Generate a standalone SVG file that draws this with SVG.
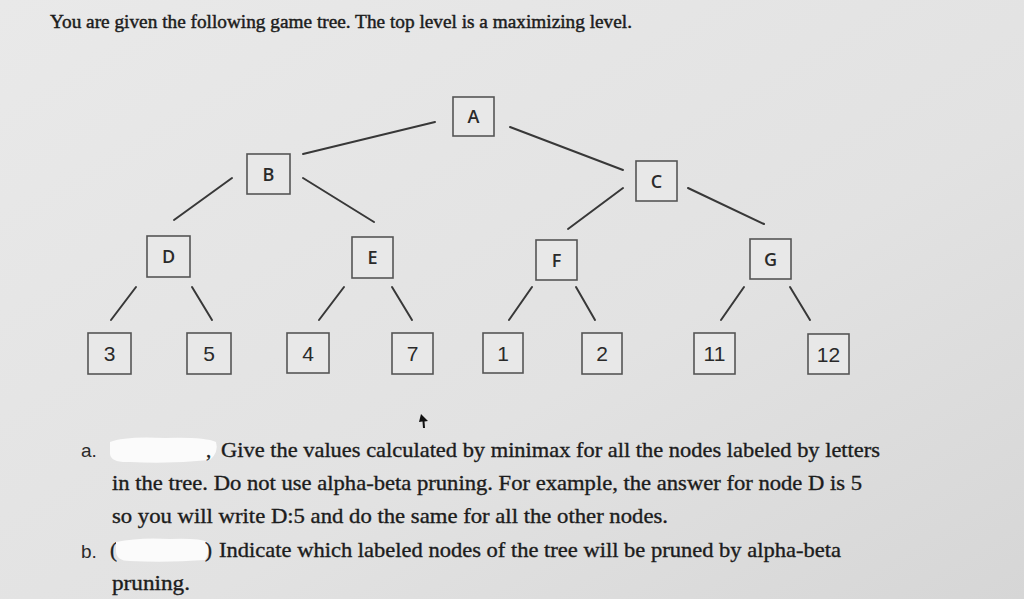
<svg xmlns="http://www.w3.org/2000/svg" width="1024" height="599" viewBox="0 0 1024 599">
<defs>
<linearGradient id="bg" x1="0" y1="0" x2="1" y2="1">
<stop offset="0" stop-color="#e9e9e9"/>
<stop offset="0.6" stop-color="#e2e2e2"/>
<stop offset="1" stop-color="#d6d6d6"/>
</linearGradient>
<style>
.box{fill:#e8e8e8;stroke:#555;stroke-width:1.6}
.lbl{font-family:"Open Sans","Liberation Sans",sans-serif;font-size:18px;font-weight:600;fill:#2a2a2a;text-anchor:middle}
.num{font-family:"Liberation Sans Narrow","Liberation Sans",sans-serif;font-size:21px;fill:#2a2a2a;text-anchor:middle}
.edge{stroke:#383838;stroke-width:2;stroke-linecap:round;fill:none}
.txt{font-family:"Liberation Serif","Times New Roman",serif;font-size:21px;fill:#1c1c1c;stroke:#1c1c1c;stroke-width:0.35}
.sans{font-family:"Liberation Sans",Arial,sans-serif;font-size:19px;fill:#2a2a2a}
.hd{font-family:"Liberation Serif","Times New Roman",serif;font-size:19px;fill:#1c1c1c;stroke:#1c1c1c;stroke-width:0.45}
.blob{fill:#fbfbfb}
</style>
</defs>
<rect width="1024" height="599" fill="url(#bg)"/>
<text class="hd" x="50" y="28" textLength="582" lengthAdjust="spacingAndGlyphs">You are given the following game tree. The top level is a maximizing level.</text>

<g id="connectors">
<line class="edge" x1="435" y1="122" x2="303" y2="154"/>
<line class="edge" x1="510" y1="127" x2="623" y2="170"/>
<line class="edge" x1="232" y1="178" x2="174" y2="220"/>
<line class="edge" x1="303" y1="178" x2="374" y2="222"/>
<line class="edge" x1="623" y1="188" x2="568" y2="229"/>
<line class="edge" x1="688" y1="188" x2="764" y2="224"/>
<line class="edge" x1="136" y1="287" x2="111" y2="320"/>
<line class="edge" x1="192" y1="287" x2="212" y2="320"/>
<line class="edge" x1="344" y1="287" x2="319" y2="320"/>
<line class="edge" x1="392" y1="287" x2="412" y2="320"/>
<line class="edge" x1="532" y1="287" x2="509" y2="320"/>
<line class="edge" x1="576" y1="287" x2="595" y2="320"/>
<line class="edge" x1="744" y1="287" x2="721" y2="320"/>
<line class="edge" x1="790" y1="287" x2="810" y2="320"/>
</g>

<g id="A"><rect class="box" x="453" y="97" width="41" height="39"/><text class="lbl" x="473.5" y="123">A</text></g>
<g id="B"><rect class="box" x="247" y="154" width="43" height="40"/><text class="lbl" x="268.5" y="180.5">B</text></g>
<g id="C"><rect class="box" x="636" y="161" width="41" height="40"/><text class="lbl" x="656.5" y="187.5">C</text></g>
<g id="D"><rect class="box" x="147" y="236" width="43" height="41"/><text class="lbl" x="168.5" y="263">D</text></g>
<g id="E"><rect class="box" x="352" y="237" width="41" height="41"/><text class="lbl" x="372.5" y="264">E</text></g>
<g id="F"><rect class="box" x="536" y="240" width="41" height="40"/><text class="lbl" x="556.5" y="267">F</text></g>
<g id="G"><rect class="box" x="750" y="239" width="41" height="40"/><text class="lbl" x="770.5" y="266">G</text></g>

<g id="L3"><rect class="box" x="88" y="333" width="43" height="41"/><text class="num" x="109.5" y="361">3</text></g>
<g id="L5"><rect class="box" x="187" y="333" width="44" height="41"/><text class="num" x="209" y="361">5</text></g>
<g id="L4"><rect class="box" x="287" y="333" width="42" height="40"/><text class="num" x="308" y="361">4</text></g>
<g id="L7"><rect class="box" x="392" y="333" width="41" height="41"/><text class="num" x="412.5" y="361">7</text></g>
<g id="L1"><rect class="box" x="483" y="333" width="40" height="40"/><text class="num" x="503" y="361">1</text></g>
<g id="L2"><rect class="box" x="582" y="333" width="40" height="41"/><text class="num" x="602" y="361">2</text></g>
<g id="L11"><rect class="box" x="694" y="333" width="41" height="41"/><text class="num" x="714.5" y="361">11</text></g>
<g id="L12"><rect class="box" x="808" y="334" width="41" height="40"/><text class="num" x="828.5" y="362">12</text></g>

<path d="M421 414 L428 421 L424.5 421.5 L425 428 L423 428 L422.5 421.5 L419 422 Z" fill="#111"/>

<text class="sans" x="81" y="457">a.</text>
<path class="blob" d="M110 442 Q125 436 165 438 Q205 437 216 442 Q219 452 210 460 Q170 464 130 462 Q111 463 110 454 Z"/>
<text class="txt" x="206" y="457">,</text>
<text class="txt" x="221" y="457" textLength="659" lengthAdjust="spacingAndGlyphs">Give the values calculated by minimax for all the nodes labeled by letters</text>
<text class="txt" x="112" y="490" textLength="750" lengthAdjust="spacingAndGlyphs">in the tree. Do not use alpha-beta pruning. For example, the answer for node D is 5</text>
<text class="txt" x="112" y="523" textLength="556" lengthAdjust="spacingAndGlyphs">so you will write D:5 and do the same for all the other nodes.</text>
<text class="sans" x="81" y="558">b.</text>
<text class="txt" x="110" y="557">(</text>
<path class="blob" d="M116 542 Q140 537 170 539 Q200 538 207 542 Q211 551 205 560 Q165 563 130 561 Q116 561 116 551 Z"/>
<text class="txt" x="205" y="557">)</text>
<text class="txt" x="219" y="557" textLength="622" lengthAdjust="spacingAndGlyphs">Indicate which labeled nodes of the tree will be pruned by alpha-beta</text>
<text class="txt" x="112" y="590" textLength="78" lengthAdjust="spacingAndGlyphs">pruning.</text>
</svg>
